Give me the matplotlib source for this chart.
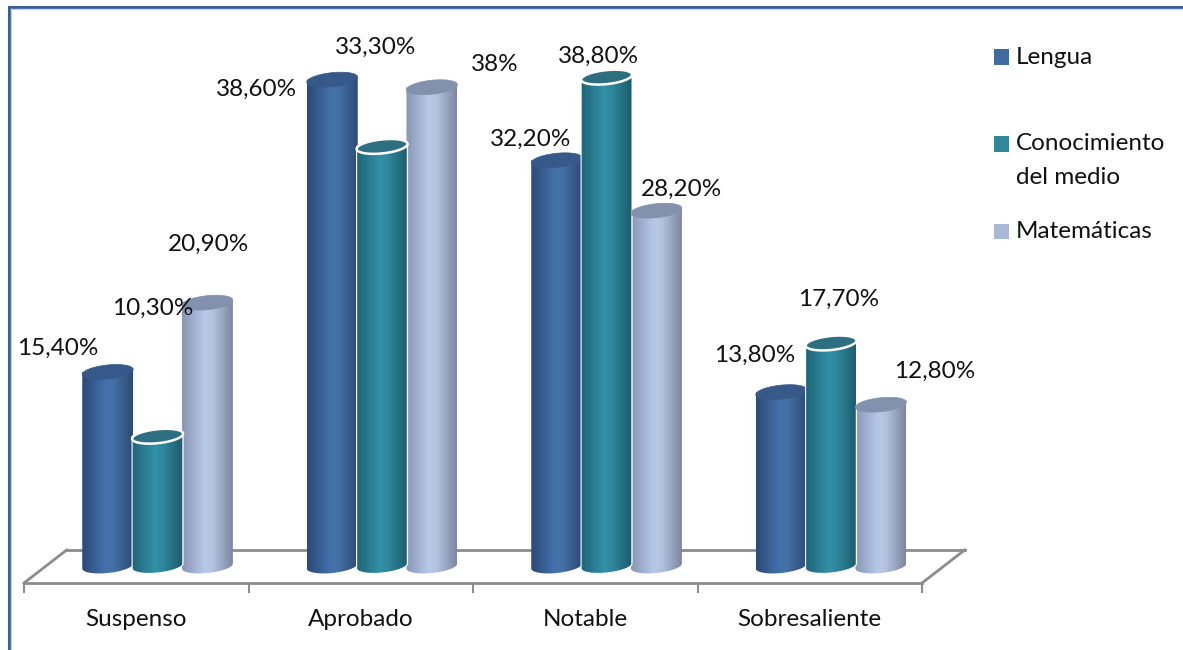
import numpy as np
import matplotlib
matplotlib.use("Agg")
import matplotlib.pyplot as plt
from matplotlib.colors import LinearSegmentedColormap
from matplotlib.patches import Polygon, Rectangle
from matplotlib.lines import Line2D

# Chart data
categories = ["Suspenso", "Aprobado", "Notable", "Sobresaliente"]
series = ["Lengua", "Conocimiento del medio", "Matemáticas"]
lengua = [15.4, 38.6, 32.2, 13.8]
conocimiento = [10.3, 33.3, 38.8, 17.7]
matematicas = [20.9, 38.0, 28.2, 12.8]
value_labels = [
    ["15,40%", "38,60%", "32,20%", "13,80%"],
    ["10,30%", "33,30%", "38,80%", "17,70%"],
    ["20,90%", "38%", "28,20%", "12,80%"],
]

# Styling
plt.rcParams["font.family"] = ["Lato", "DejaVu Sans"]
FS = 17.5
W, H = 1183, 650
body_stops = [
    ["#2b4a76", "#4370aa", "#4571a8", "#2c4b77"],
    ["#1f6577", "#3290a7", "#2f889e", "#1c5b6b"],
    ["#8896b6", "#b8c8e7", "#b3c2e0", "#7c88a2"],
]
top_colors = ["#36598a", "#2b6f80", "#8291ae"]
legend_colors = ["#416a9f", "#32879b", "#a9b8d6"]
label_offsets = [  # pixel offsets of value labels from each bar top
    [(-50, 24), (-76, -10), (-26, 21), (-27, 37)],
    [(-5, 128), (-6, 99), (-8, 21), (8, 44)],
    [(1, 58), (63, 23), (25, 21), (54, 33)],
]

px_per_unit_x = 224.5
px_per_val = 12.6
base_px = 566
floor_front_px = 583

fig = plt.figure(figsize=(W / 100, H / 100), dpi=100)
ax = fig.add_axes([0, (H - floor_front_px) / H, 1, floor_front_px / H])

x_lo = -0.5 - 24 / px_per_unit_x
x_hi = -0.5 + (W - 24) / px_per_unit_x
y_lo = (base_px - floor_front_px) / px_per_val
y_hi = base_px / px_per_val

x = np.arange(len(categories))
depth = 0.095
width = 0.227
offsets = [-0.222, 0.0, 0.222]
eb = 7 / px_per_val      # half height of the cylinder ellipses
skew = 2.5 / px_per_val  # slight tilt of the ellipses

# Floor outline (back part sits behind the bars)
back_y = (base_px - 550) / px_per_val
ax.plot([-0.5 + 2 * depth, 3.5 + 2 * depth], [back_y, back_y], color="#8c8c8c", lw=2, zorder=1)
ax.plot([-0.5, -0.5 + 2 * depth], [y_lo, back_y], color="#8c8c8c", lw=2, zorder=1, clip_on=False)
ax.plot([3.5, 3.5 + 2 * depth], [y_lo, back_y], color="#8c8c8c", lw=2, zorder=1, clip_on=False)

theta_bot = np.linspace(np.pi, 2 * np.pi, 60)
theta_all = np.linspace(0, 2 * np.pi, 120)

for s, vals in enumerate([lengua, conocimiento, matematicas]):
    cmap = LinearSegmentedColormap.from_list(
        f"cyl{s}", list(zip([0, 0.45, 0.6, 1], body_stops[s])))
    bars = ax.bar(x + depth + offsets[s], vals, width, color="none", zorder=2)
    for c, rect in enumerate(bars):
        x0, w, v = rect.get_x(), rect.get_width(), rect.get_height()
        xc, a = x0 + w / 2, w / 2
        # cylinder body: bar rectangle with a rounded bottom
        bot = np.column_stack([xc + a * np.cos(theta_bot),
                               eb * np.sin(theta_bot) + skew * np.cos(theta_bot)])
        outline = np.vstack([[[x0, v]], [[x0, 0]], bot, [[x0 + w, skew]], [[x0 + w, v + skew]]])
        body = Polygon(outline, closed=True, transform=ax.transData,
                       facecolor="none",
                       edgecolor="#ffffff" if s == 1 else "none",
                       lw=0.8, zorder=3 + s * 0.1 + c * 0.01)
        ax.add_patch(body)
        im = ax.imshow(np.linspace(0, 1, 256).reshape(1, -1), cmap=cmap,
                       extent=[x0, x0 + w, -eb - skew, v + skew],
                       aspect="auto", zorder=2.5 + s * 0.1, interpolation="bilinear")
        im.set_clip_path(body)
        # elliptical cap
        top = np.column_stack([xc + a * np.cos(theta_all),
                               v + eb * np.sin(theta_all) + skew * np.cos(theta_all)])
        ax.add_patch(Polygon(top, closed=True, facecolor=top_colors[s],
                             edgecolor="#ffffff" if s == 1 else top_colors[s],
                             lw=1.8 if s == 1 else 0.5, zorder=3.05 + s * 0.1))
        dx, dy = label_offsets[s][c]
        ax.annotate(value_labels[s][c], xy=(xc, v), xytext=(dx, dy),
                    textcoords="offset pixels", ha="center", va="center",
                    fontsize=FS, color="#111111", zorder=6)

ax.set_xlim(x_lo, x_hi)
ax.set_ylim(y_lo, y_hi)

# Category axis along the front edge of the floor
for side in ["top", "right", "left"]:
    ax.spines[side].set_visible(False)
ax.spines["bottom"].set_bounds(-0.5, 3.5)
ax.spines["bottom"].set_color("#8c8c8c")
ax.spines["bottom"].set_linewidth(2)
ax.set_yticks([])
ax.set_xticks(np.arange(-0.5, 4, 1))
ax.set_xticklabels([])
ax.tick_params(axis="x", which="major", length=7.2, width=1.5, color="#8c8c8c", direction="out")
ax.set_xticks(x, minor=True)
ax.set_xticklabels(categories, minor=True, fontsize=FS, color="#111111")
ax.tick_params(axis="x", which="minor", length=0, pad=18.5)
ax.patch.set_visible(False)

# Legend
leg_items = [("Lengua",), ("Conocimiento", "del medio"), ("Matemáticas",)]
leg_y = [57, 144, 232]
for s, lines in enumerate(leg_items):
    fig.patches.append(Rectangle((994 / W, 1 - (leg_y[s] + 7.5) / H), 15 / W, 15 / H,
                                 transform=fig.transFigure, facecolor=legend_colors[s],
                                 edgecolor="none"))
    for k, t in enumerate(lines):
        fig.text(1016 / W, 1 - (leg_y[s] + 33 * k) / H, t, fontsize=FS,
                 color="#111111", ha="left", va="center")

# Outer frame (left and top edges)
fig.lines.append(Line2D([8.5 / W, 8.5 / W], [0, 1 - 7 / H], transform=fig.transFigure,
                        color="#3a6093", lw=2.2))
fig.lines.append(Line2D([8.5 / W, 1], [1 - 7 / H, 1 - 7 / H], transform=fig.transFigure,
                        color="#3a6093", lw=2.2))
fig.lines.append(Line2D([10.5 / W, 10.5 / W], [0, 1 - 9 / H], transform=fig.transFigure,
                        color="#c5d3e8", lw=1))
fig.lines.append(Line2D([10.5 / W, 1], [1 - 9 / H, 1 - 9 / H], transform=fig.transFigure,
                        color="#c5d3e8", lw=1))

fig.savefig("out.png", dpi=100)
